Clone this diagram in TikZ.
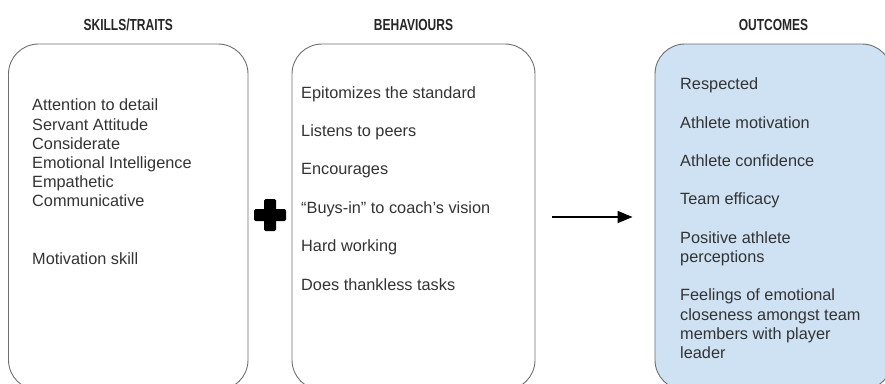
\documentclass[tikz,border=0pt]{standalone}
\usepackage{fontspec}
\setmainfont{Liberation Sans}
\newfontfamily\headfont[FakeStretch=0.75]{Liberation Sans}
\usetikzlibrary{positioning}
\usetikzlibrary{arrows.meta}
\usepackage{xcolor}
\definecolor{boxline}{HTML}{6E6E6E}
\definecolor{itemgray}{HTML}{333333}
\definecolor{outblue}{HTML}{CFE2F3}

\tikzset{
  panel/.style={draw=boxline, line width=0.9pt, rounded corners=30pt, minimum height=346pt, inner sep=0pt},
  head/.style={font=\headfont\bfseries\fontsize{16}{16}\selectfont, text=black!85, inner sep=0pt, text depth=0pt},
  items/.style={font=\fontsize{16.3}{19.2}\selectfont, text=itemgray, align=left, inner sep=0pt, anchor=north west},
}

\begin{document}
\begin{tikzpicture}[x=1pt,y=-1pt]
\useasboundingbox (0,0) rectangle (885,383);
\clip (0,0) rectangle (885,383);

% the three panels
\node [panel, minimum width=239.5pt] (skills) at (128.25,217) {};
\node [panel, minimum width=243pt] (behaviours) at (413.5,217) {};
\node [panel, fill=outblue, minimum width=237pt] (outcomes) at (773.5,217) {};

\node [head, above=13pt of skills] (skillshead) {SKILLS/TRAITS};
\node [head, above=13pt of behaviours] (behavhead) {BEHAVIOURS};
\node [head, above=13pt of outcomes] (outhead) {OUTCOMES};

% contents
\node [items] (skilllist) at (32,98.8) {Attention to detail\\ Servant Attitude\\ Considerate\\ Emotional Intelligence\\ Empathetic\\ Communicative\\[38.4pt] Motivation skill};
\node [items] (behavlist) at (301,86.1) {Epitomizes the standard\\[19.2pt] Listens to peers\\[19.2pt] Encourages\\[19.2pt] ``Buys-in'' to coach's vision\\[19.2pt] Hard working\\[19.2pt] Does thankless tasks};
\node [items] (outlist) at (680,77.6) {Respected\\[19.2pt] Athlete motivation\\[19.2pt] Athlete confidence\\[19.2pt] Team efficacy\\[19.2pt] Positive athlete\\ perceptions\\[19.2pt] Feelings of emotional\\ closeness amongst team\\ members with player\\ leader};

% plus sign
\coordinate (plus) at (270,215);
\fill [rounded corners=1.5pt] ([shift={(-16,-6)}]plus) rectangle ([shift={(16,6)}]plus);
\fill [rounded corners=1.5pt] ([shift={(-6,-16)}]plus) rectangle ([shift={(6,16)}]plus);

% arrow
\draw [line width=1.8pt, -{Triangle[length=15pt,width=12pt]}, shorten <=17pt, shorten >=22pt] (behaviours) -- (outcomes);

\end{tikzpicture}
\end{document}
